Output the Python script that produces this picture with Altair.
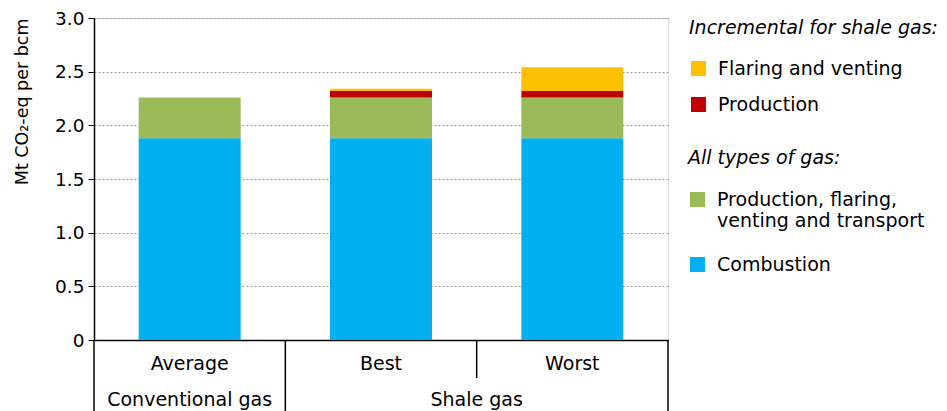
import altair as alt
import pandas as pd

FONT = "DejaVu Sans"

# ---- data ----
subs = ["Average", "Best", "Worst"]
combustion = [1.88, 1.88, 1.88]
transport = [0.38, 0.38, 0.38]
production = [0.0, 0.06, 0.06]
flaring = [0.0, 0.02, 0.22]

series_names = ["Combustion", "Production, flaring, venting and transport",
                "Production", "Flaring and venting"]
series_kind = ["all", "all", "shale", "shale"]
series_colors = ["#00B0F0", "#9BBB59", "#C00000", "#FFC000"]

group_labels = ["Conventional gas", "Shale gas"]
y_ticks = [0, 0.5, 1.0, 1.5, 2.0, 2.5, 3.0]

rows = []
for si, vals in enumerate([combustion, transport, production, flaring]):
    for s, v in zip(subs, vals):
        rows.append(dict(sub=s, series=series_names[si], kind=series_kind[si],
                         order=si, value=v))
df = pd.DataFrame(rows)

W, H = 574, 322

x_scale = alt.Scale(domain=subs, paddingInner=0, paddingOuter=0)
x_axis = alt.Axis(title=None, labelAngle=0, ticks=False, domainColor="black",
                  domainWidth=1.5, labelFont=FONT, labelFontSize=19,
                  labelColor="black", labelPadding=14, grid=False)
y_axis = alt.Axis(values=y_ticks, title="Mt CO\u2082-eq per bcm", titleAnchor="end",
                  titleFont=FONT, titleFontSize=17.5, titleFontWeight="normal",
                  titleColor="black", titlePadding=23,
                  labelFont=FONT, labelFontSize=18.5, labelColor="black", labelPadding=4,
                  labelExpr="datum.value == 0 ? '0' : format(datum.value, '.1f')",
                  tickColor="black", tickSize=6, domainColor="black", domainWidth=1.5,
                  grid=True, gridColor="#999999", gridDash=[2, 2], gridWidth=1.2)
y_scale = alt.Scale(domain=[0, 3], nice=False)

base = alt.Chart(df).transform_stack(
    stack="value", groupby=["sub"], as_=["v0", "v1"],
    sort=[alt.SortField("order", order="ascending")]
).transform_filter("datum.value > 0")

legend_common = dict(orient="none", symbolType="square", symbolSize=225,
                     symbolStrokeWidth=0, labelFont=FONT, labelFontSize=19,
                     labelColor="black", labelLimit=400, labelOffset=10,
                     titleFont=FONT, titleFontSize=19, titleFontStyle="italic",
                     titleFontWeight="normal", titleColor="black", titleLimit=400,
                     padding=0, titleAnchor="start")

shale_names = [series_names[3], series_names[2]]
shale_cols = [series_colors[3], series_colors[2]]
all_names = [series_names[1], series_names[0]]
all_cols = [series_colors[1], series_colors[0]]

bars_all = base.transform_filter("datum.kind == 'all'").mark_bar(
    width=alt.RelativeBandSize(0.533)).encode(
    x=alt.X("sub:N", scale=x_scale, axis=x_axis),
    y=alt.Y("v0:Q", scale=y_scale, axis=y_axis),
    y2="v1:Q",
    color=alt.Color("series:N", scale=alt.Scale(domain=all_names, range=all_cols),
                    legend=alt.Legend(title="All types of gas:", legendX=594, legendY=131,
                                      titlePadding=22, rowPadding=24,
                                      labelExpr="datum.label == 'Production, flaring, venting and transport' ? ['Production, flaring,', 'venting and transport'] : datum.label",
                                      **legend_common)),
)

bars_shale = base.transform_filter("datum.kind == 'shale'").mark_bar(
    width=alt.RelativeBandSize(0.533)).encode(
    x=alt.X("sub:N", scale=x_scale, axis=x_axis),
    y=alt.Y("v0:Q", scale=y_scale, axis=y_axis),
    y2="v1:Q",
    color=alt.Color("series:N", scale=alt.Scale(domain=shale_names, range=shale_cols),
                    legend=alt.Legend(title="Incremental for shale gas:", legendX=595, legendY=1,
                                      titlePadding=21, rowPadding=16, **legend_common)),
)

# separators of the two-level category axis
sep_long = pd.DataFrame({"sub": ["Average", "Best"]})
sep_end = pd.DataFrame({"sub": ["Worst"]})
sep_short = pd.DataFrame({"sub": ["Worst"]})

rule_long = alt.Chart(sep_long).mark_rule(color="black", strokeWidth=1.5).encode(
    x=alt.X("sub:N", scale=x_scale, axis=x_axis, bandPosition=0),
    y=alt.value(H), y2=alt.value(H + 75))
rule_end = alt.Chart(sep_end).mark_rule(color="black", strokeWidth=1.5).encode(
    x=alt.X("sub:N", scale=x_scale, axis=x_axis, bandPosition=1),
    y=alt.value(H), y2=alt.value(H + 75))
rule_short = alt.Chart(sep_short).mark_rule(color="black", strokeWidth=1.5).encode(
    x=alt.X("sub:N", scale=x_scale, axis=x_axis, bandPosition=0),
    y=alt.value(H), y2=alt.value(H + 38))

grp_conv = pd.DataFrame({"sub": ["Average"], "label": [group_labels[0]]})
grp_shale = pd.DataFrame({"sub": ["Worst"], "label": [group_labels[1]]})

txt_conv = alt.Chart(grp_conv).mark_text(font=FONT, fontSize=19, color="black",
                                         baseline="alphabetic").encode(
    x=alt.X("sub:N", scale=x_scale, axis=x_axis, bandPosition=0.5),
    y=alt.value(H + 66), text="label:N")
txt_shale = alt.Chart(grp_shale).mark_text(font=FONT, fontSize=19, color="black",
                                           baseline="alphabetic").encode(
    x=alt.X("sub:N", scale=x_scale, axis=x_axis, bandPosition=0),
    y=alt.value(H + 66), text="label:N")

chart = alt.layer(
    bars_all, bars_shale, rule_long, rule_end, rule_short, txt_conv, txt_shale
).resolve_scale(color="independent").properties(
    width=W, height=H,
    autosize=alt.AutoSizeParams(type="none"),
    padding={"left": 86, "top": 10, "right": 271, "bottom": 71},
).configure_view(stroke=None).configure(background="white")

chart.save("out.html", embed_options={"renderer": "svg", "actions": False})
